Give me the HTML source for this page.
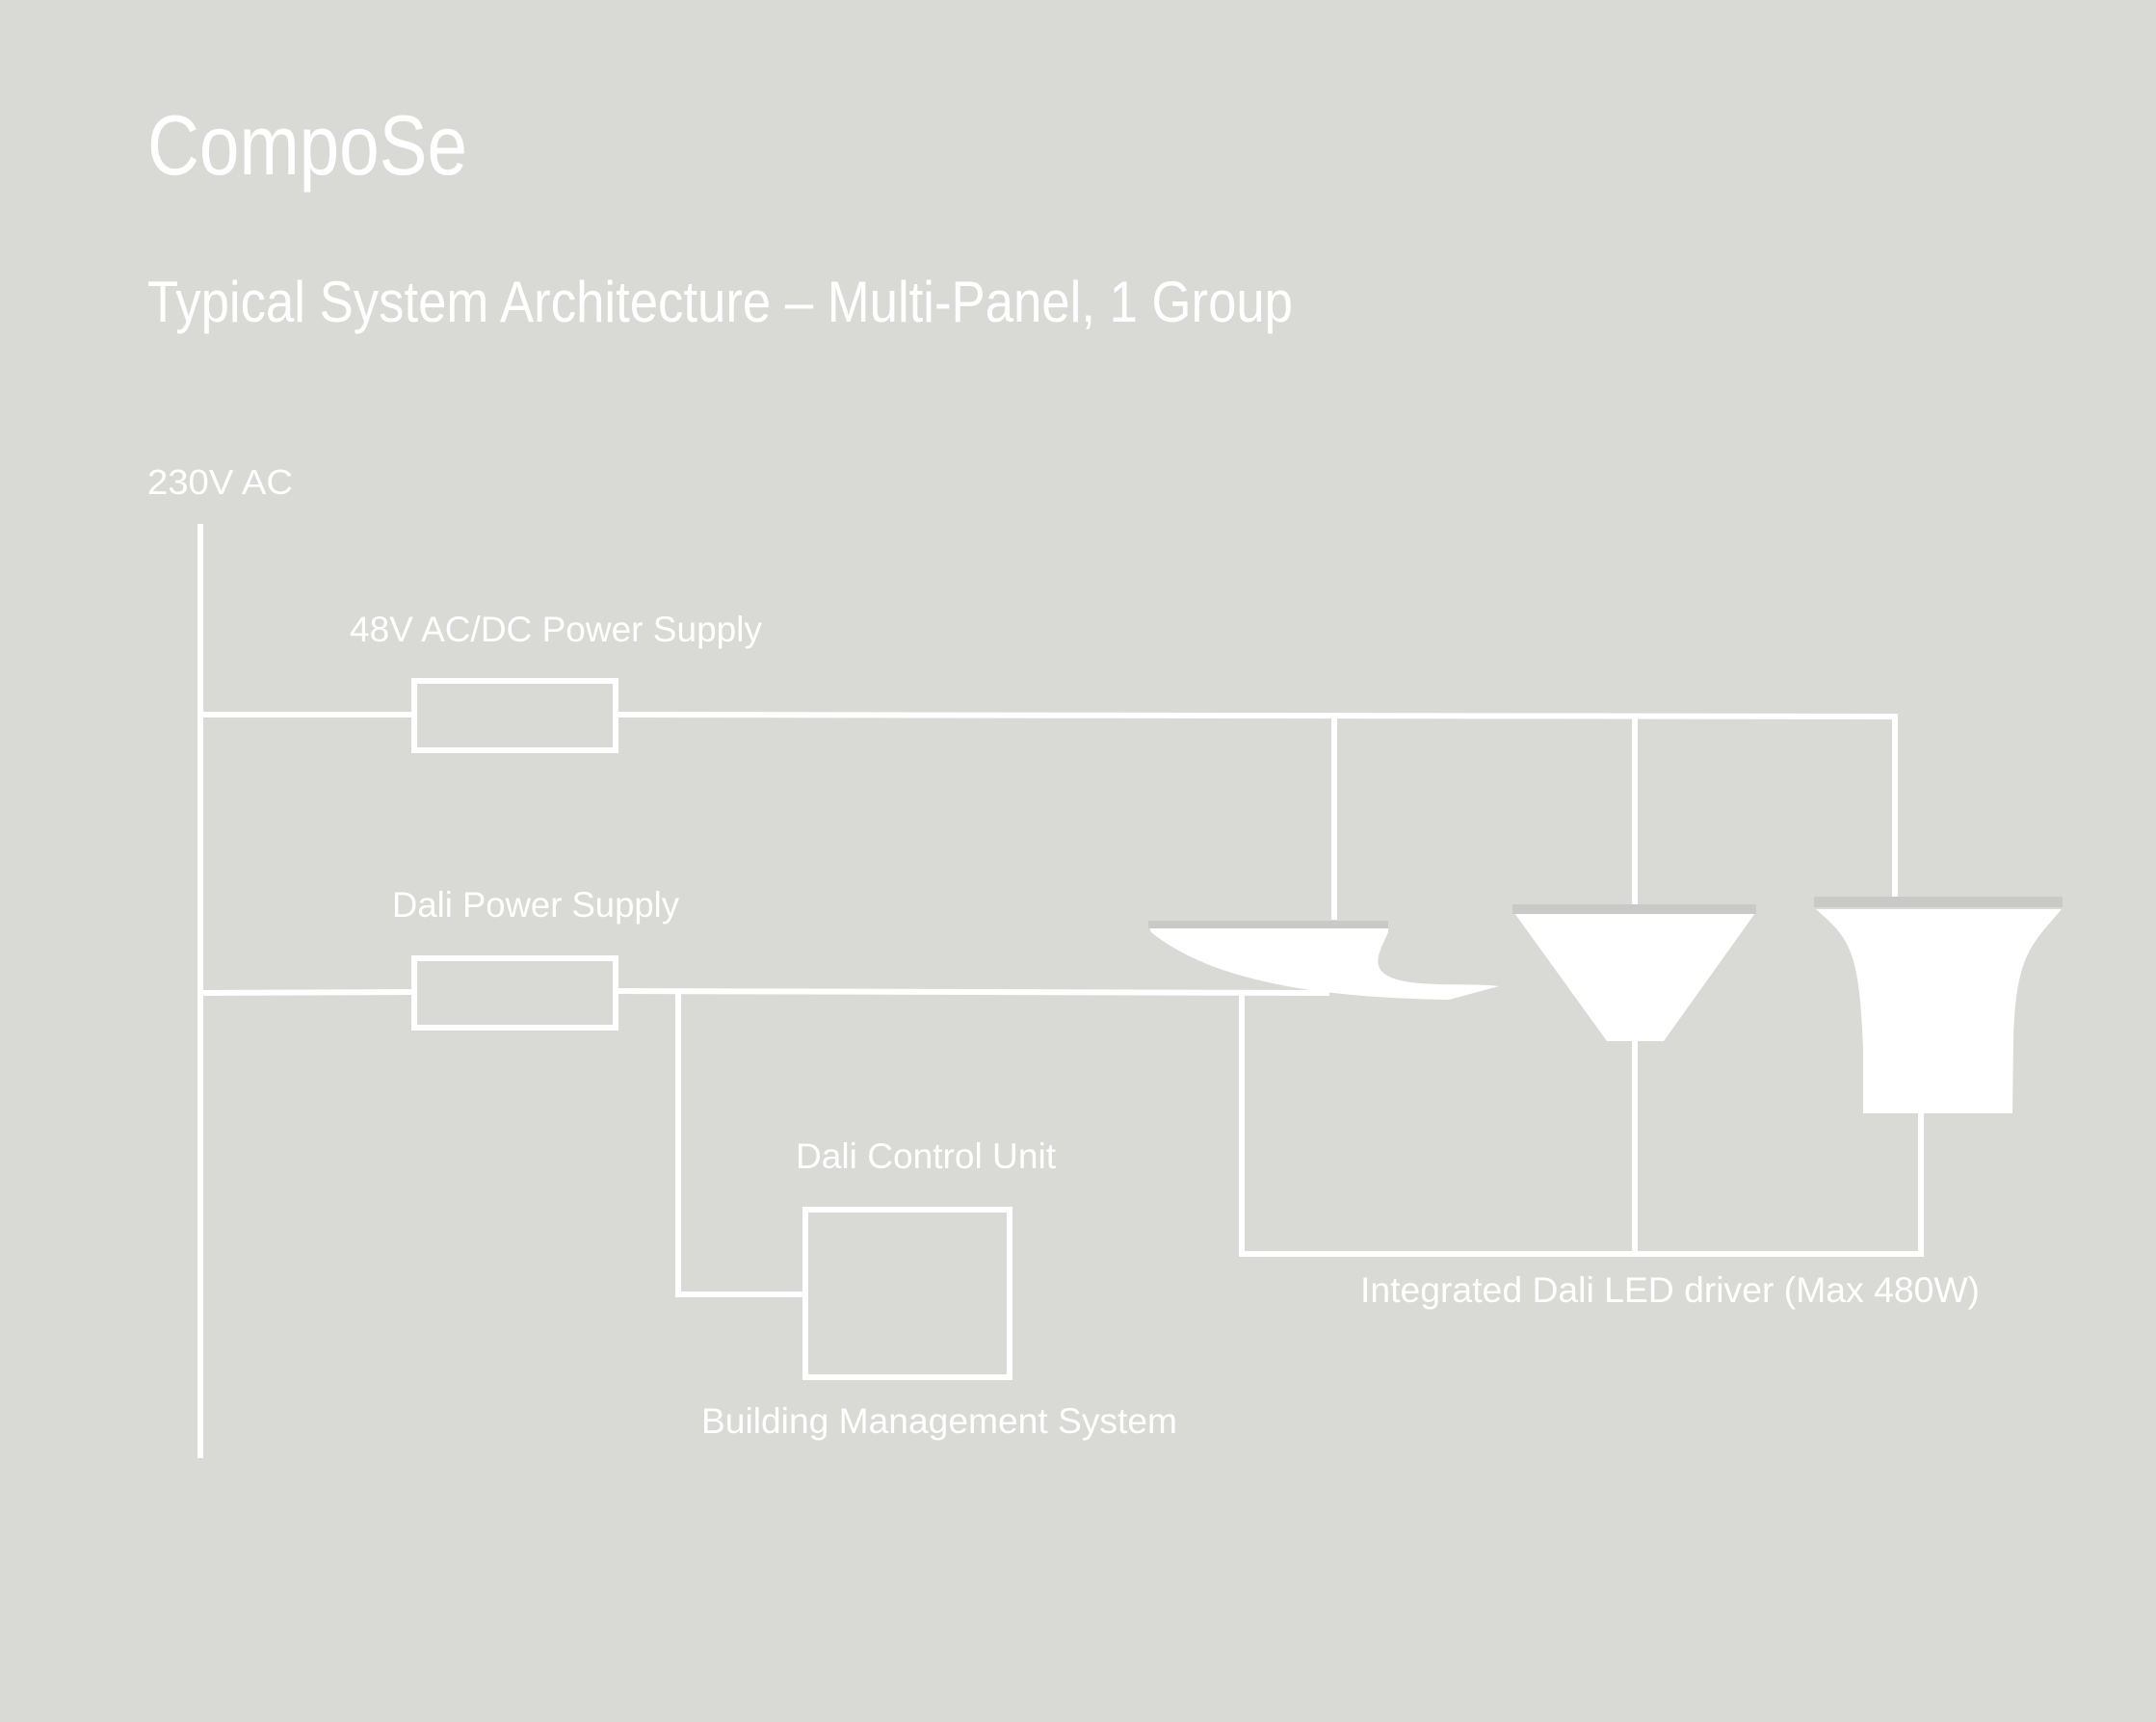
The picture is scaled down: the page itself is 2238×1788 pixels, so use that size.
<!DOCTYPE html>
<html><head><meta charset="utf-8"><style>
html,body{margin:0;padding:0;background:#d9dad5;}
svg{display:block}
text{fill:#fff;font-family:"Liberation Sans Narrow","Liberation Sans",sans-serif;}
</style></head><body>
<svg width="2238" height="1788" viewBox="0 0 2238 1788" xmlns="http://www.w3.org/2000/svg">
<rect width="2238" height="1788" fill="#d9dad5"/>
<text x="153" y="181" font-size="88" textLength="332" lengthAdjust="spacingAndGlyphs">CompoSe</text>
<text x="153" y="334" font-size="60" textLength="1189" lengthAdjust="spacingAndGlyphs">Typical System Architecture – Multi-Panel, 1 Group</text>
<text x="153" y="513" font-size="36" textLength="151" lengthAdjust="spacingAndGlyphs">230V AC</text>
<text x="363" y="666" font-size="37" textLength="428" lengthAdjust="spacingAndGlyphs">48V AC/DC Power Supply</text>
<text x="407" y="952" font-size="37" textLength="298" lengthAdjust="spacingAndGlyphs">Dali Power Supply</text>
<text x="826" y="1213" font-size="37" textLength="270" lengthAdjust="spacingAndGlyphs">Dali Control Unit</text>
<text x="728" y="1488" font-size="37" textLength="494" lengthAdjust="spacingAndGlyphs">Building Management System</text>
<text x="1412" y="1352" font-size="37" textLength="643" lengthAdjust="spacingAndGlyphs">Integrated Dali LED driver (Max 480W)</text>
<g stroke="#fff" stroke-width="6" fill="none">
<line x1="208" y1="544" x2="208" y2="1514"/>
<line x1="208" y1="742" x2="430" y2="742"/>
<rect x="430" y="707" width="209" height="72"/>
<line x1="639" y1="742" x2="1970" y2="744"/>
<line x1="1385" y1="744" x2="1385" y2="955"/>
<line x1="1697" y1="744" x2="1697" y2="942"/>
<line x1="1967" y1="744" x2="1967" y2="934"/>
<line x1="208" y1="1031" x2="430" y2="1030"/>
<rect x="430" y="995" width="209" height="72"/>
<line x1="639" y1="1029" x2="1380" y2="1031"/>
<polyline points="704,1029 704,1344 836,1344"/>
<rect x="836" y="1256" width="212" height="174"/>
<polyline points="1289,1031 1289,1302 1994,1302 1994,1150"/>
<line x1="1697" y1="1075" x2="1697" y2="1302"/>
</g>
<!-- panel 1 -->
<path d="M1192,960 L1441,960 L1441,968 C1432,988 1422,1004 1442,1014 C1466,1026 1520,1020 1556,1024 L1504,1038 C1380,1036 1262,1022 1195,968 Z" fill="#fff"/>
<rect x="1192" y="956" width="249" height="8" fill="#c9cac8"/>
<!-- panel 2 -->
<path d="M1572,948 L1822,948 L1727,1081 L1668,1081 Z" fill="#fff"/>
<rect x="1570" y="939" width="253" height="10" fill="#c9cac8"/>
<!-- panel 3 -->
<path d="M1885,944 L2140,944 C2110,980 2092,990 2090,1080 L2089,1156 L1934,1156 L1934,1090 C1930,985 1920,975 1885,944 Z" fill="#fff"/>
<rect x="1883" y="931" width="258" height="11" fill="#c9cac8"/>
</svg>
</body></html>
